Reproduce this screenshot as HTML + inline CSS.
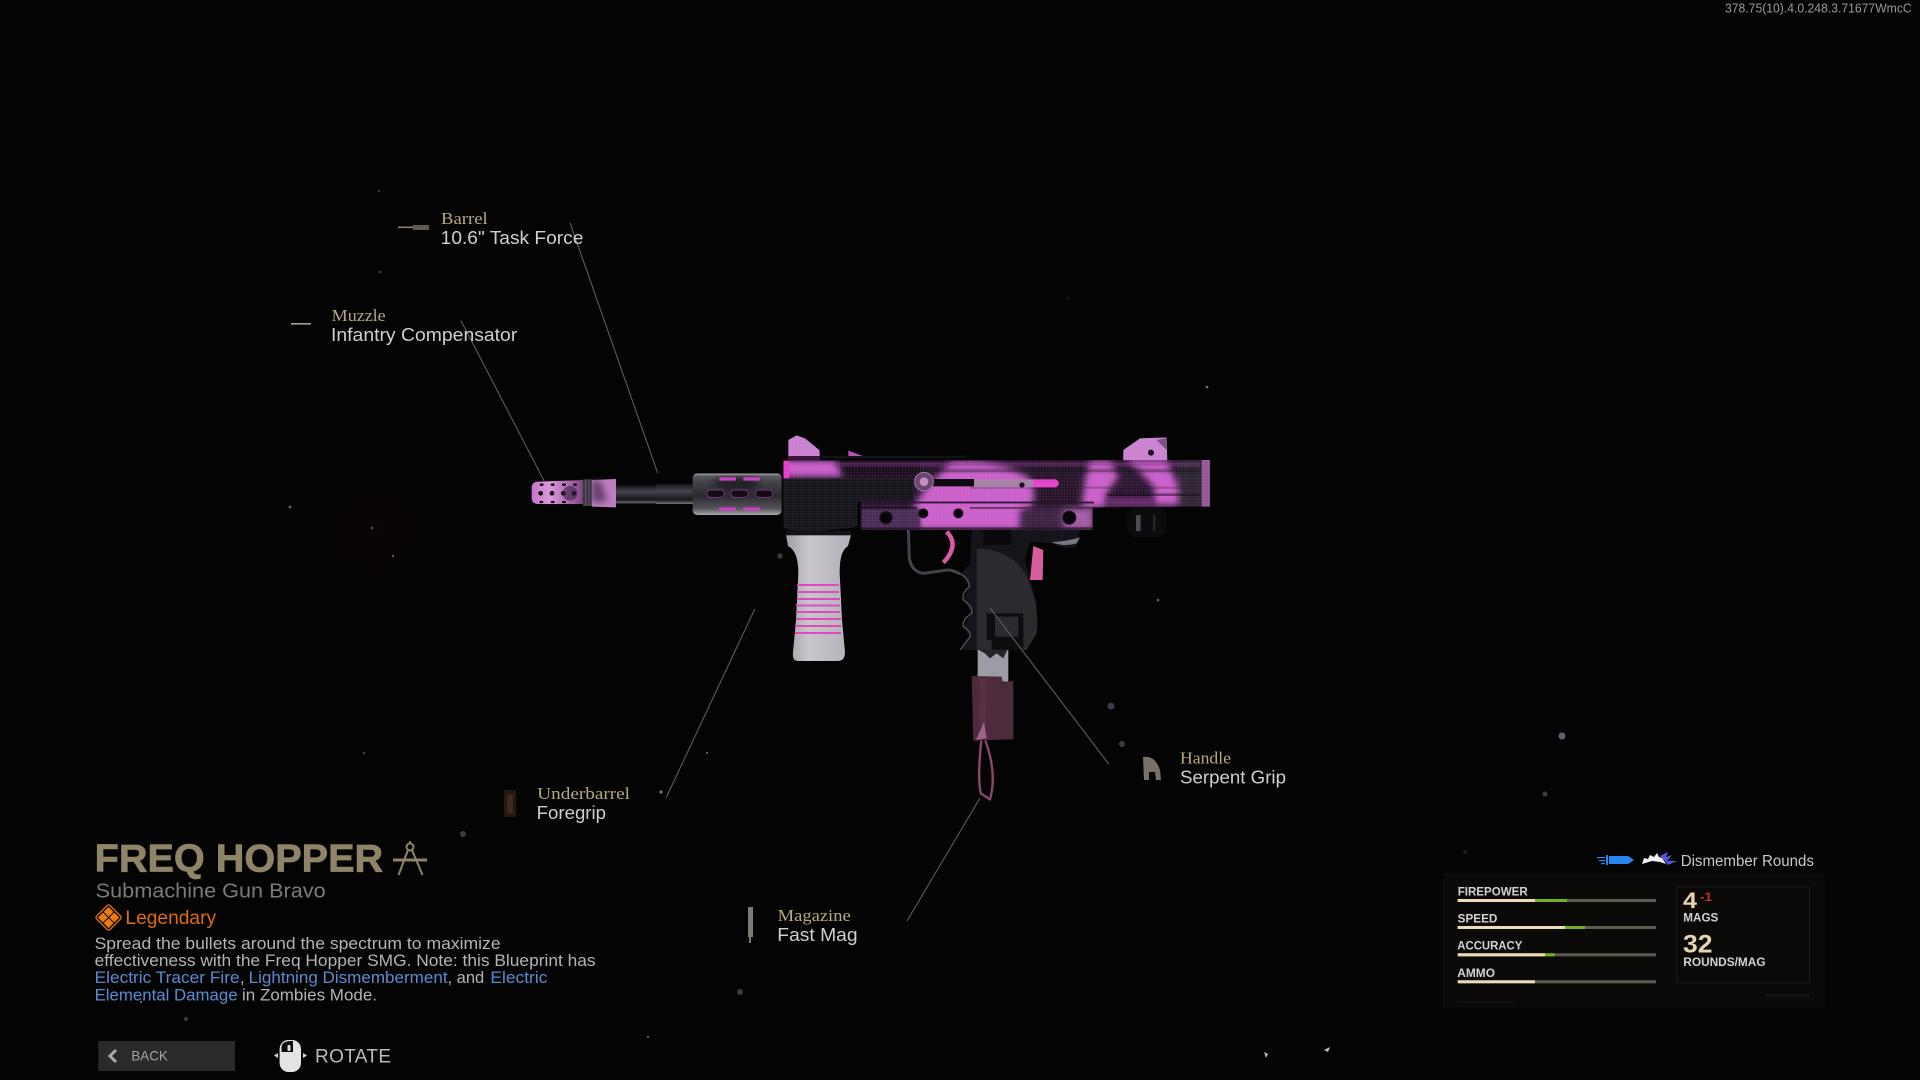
<!DOCTYPE html>
<html><head><meta charset="utf-8"><title>Freq Hopper</title>
<style>html,body{margin:0;padding:0;background:#040404;width:1920px;height:1080px;overflow:hidden}svg{display:block}
.s{font-family:"Liberation Sans",sans-serif}.r{font-family:"Liberation Serif",serif}
.k{font-family:"Liberation Serif",serif;font-size:16.5px;fill:#b8a97c}
.v{font-family:"Liberation Sans",sans-serif;font-size:18px;fill:#cfcfcf}
.d{font-family:"Liberation Sans",sans-serif;font-size:16.5px;fill:#b4b4b4}
.b{fill:#5b8bd0}
.t{font-family:"Liberation Sans",sans-serif;font-size:11.5px;font-weight:bold;fill:#d2d2d2}
</style></head><body>
<svg width="1920" height="1080" viewBox="0 0 1920 1080" xmlns="http://www.w3.org/2000/svg">
<defs>
<radialGradient id="glow"><stop offset="0" stop-color="#090405"/><stop offset="1" stop-color="#040404"/></radialGradient>
<filter id="bl" x="-30%" y="-30%" width="160%" height="160%"><feGaussianBlur stdDeviation="10"/></filter>
<filter id="bl2" x="-30%" y="-200%" width="160%" height="500%"><feGaussianBlur stdDeviation="3"/></filter>
<clipPath id="rc"><polygon points="40,92 1320,90 1320,230 968,232 968,300 272,300 272,215 40,215"/></clipPath>
<clipPath id="hgc"><rect x="518" y="40" width="267" height="125" rx="14"/></clipPath>
<linearGradient id="hg" x1="0" y1="0" x2="0" y2="1"><stop offset="0" stop-color="#66666c"/><stop offset=".2" stop-color="#44444a"/><stop offset=".55" stop-color="#2a2a2f"/><stop offset=".85" stop-color="#55555b"/><stop offset="1" stop-color="#a8a8ae"/></linearGradient>
<linearGradient id="bar" x1="0" y1="0" x2="0" y2="1"><stop offset="0" stop-color="#141418"/><stop offset=".35" stop-color="#44454b"/><stop offset=".8" stop-color="#17171b"/><stop offset="1" stop-color="#77777d"/></linearGradient>
<linearGradient id="fg" x1="0" y1="0" x2="1" y2="0"><stop offset="0" stop-color="#9f9da4"/><stop offset=".35" stop-color="#c9c7cd"/><stop offset="1" stop-color="#b3b1b7"/></linearGradient>
<linearGradient id="mz" x1="0" y1="0" x2="1" y2="0"><stop offset="0" stop-color="#c574c8"/><stop offset=".35" stop-color="#dc98dc"/><stop offset=".75" stop-color="#a866aa"/><stop offset="1" stop-color="#7a4580"/></linearGradient>
<pattern id="kn" width="8" height="8" patternUnits="userSpaceOnUse"><rect width="8" height="8" fill="#15151a"/><circle cx="4" cy="4" r="1.7" fill="#34343c"/></pattern>
<pattern id="gr" width="9" height="9" patternUnits="userSpaceOnUse"><rect width="9" height="9" fill="none"/><path d="M0,0H9M0,0V9" stroke="#f4b4f0" stroke-width="1.4" opacity=".35"/></pattern>
</defs>
<rect width="1920" height="1080" fill="#040404"/>
<ellipse cx="375" cy="530" rx="125" ry="140" fill="url(#glow)"/>

<!-- dust -->
<g fill="#3a3c48">
<circle cx="379" cy="191" r="1.2"/><circle cx="380" cy="272" r="1.4"/><circle cx="290" cy="507" r="1.4" fill="#666"/><circle cx="372" cy="528" r="1.1" fill="#666"/><circle cx="393" cy="556" r="1.1" fill="#666"/>
<circle cx="1207" cy="387" r="1.3" fill="#777"/><circle cx="1068" cy="298" r="1.5" fill="#1c1c1c"/><circle cx="780" cy="556" r="2.6"/><circle cx="1158" cy="600" r="1.3" fill="#666"/>
<circle cx="1111" cy="706" r="3.5"/><circle cx="1122" cy="744" r="3"/><circle cx="1562" cy="736" r="3.5" fill="#5a6070"/><circle cx="1545" cy="794" r="2.5"/>
<path d="M1264,1052 L1266,1058 L1268,1054Z M1324,1050 L1330,1047 L1328,1052Z" fill="#bbc"/><circle cx="740" cy="992" r="3"/><circle cx="707" cy="753" r="1.1" fill="#666"/>
<circle cx="661" cy="792" r="1.6" fill="#778"/><circle cx="463" cy="834" r="3"/><circle cx="364" cy="753" r="1.3"/><circle cx="648" cy="1037" r="1.1" fill="#666"/>
<circle cx="186" cy="1019" r="2"/><circle cx="141" cy="1002" r="1" fill="#888"/><circle cx="1465" cy="852" r="2" fill="#1c1c1c"/>
</g>

<!-- foregrip (real coords) -->
<path d="M786,535 H851 L848,546 Q838,552 840,580 L842,620 L845,652 Q845,661 838,661 H798 Q792,661 793,652 L796,620 L798,580 Q800,552 788,546Z" fill="url(#fg)"/>
<g fill="#e348be"><rect x="797" y="584" width="42" height="2"/><rect x="797" y="591" width="42" height="2"/><rect x="797" y="598" width="43" height="2"/><rect x="796" y="604.5" width="44" height="2"/><rect x="796" y="611" width="44" height="2"/><rect x="796" y="618" width="45" height="2"/><rect x="795" y="625" width="46" height="2"/><rect x="795" y="632" width="46" height="2"/></g>

<!-- muzzle / barrel / handguard -->
<g transform="translate(520 460) scale(.3333)">
 <path d="M35,80 Q38,65 55,65 L190,60 V132 L55,132 Q38,132 35,118Z" fill="url(#mz)"/>
 <g fill="#0f0810"><ellipse cx="65" cy="74" rx="6" ry="4"/><ellipse cx="98" cy="74" rx="6" ry="4"/><ellipse cx="132" cy="74" rx="6" ry="4"/><ellipse cx="165" cy="74" rx="6" ry="4"/>
 <circle cx="62" cy="100" r="7"/><circle cx="96" cy="100" r="7"/><circle cx="130" cy="100" r="7"/><circle cx="162" cy="100" r="7"/>
 <ellipse cx="64" cy="126" rx="6" ry="3.5"/><ellipse cx="98" cy="126" rx="6" ry="3.5"/><ellipse cx="132" cy="126" rx="6" ry="3.5"/></g>
 <ellipse cx="150" cy="100" rx="22" ry="22" fill="#3a2240" opacity=".6"/>
 <rect x="188" y="58" width="30" height="80" fill="#3c3440"/><rect x="196" y="58" width="3" height="80" fill="#70667a"/><rect x="206" y="58" width="3" height="80" fill="#6a6074"/>
 <path d="M215,60 L288,57 V142 L215,140Z" fill="#bf7ec2"/>
 <path d="M215,60 L240,60 L262,125 L215,125Z" fill="#3c2844" opacity=".7" filter="url(#bl)"/>
 <rect x="288" y="76" width="120" height="54" fill="url(#bar)"/>
 <rect x="408" y="72" width="112" height="60" fill="url(#bar)"/>
 <rect x="518" y="40" width="267" height="125" rx="14" fill="url(#hg)"/>
 <g clip-path="url(#hgc)"><ellipse cx="650" cy="70" rx="70" ry="18" fill="#14141a" opacity=".8" filter="url(#bl)"/><rect x="518" y="40" width="267" height="6" fill="#8a8a90"/></g>
 <g fill="#130c15" stroke="#9c3ea0" stroke-width="2"><rect x="561" y="90" width="52" height="22" rx="11"/><rect x="633" y="90" width="52" height="22" rx="11"/><rect x="706" y="90" width="52" height="22" rx="11"/></g>
 <g fill="#d040c4"><rect x="598" y="52" width="50" height="10" rx="2"/><rect x="670" y="52" width="50" height="10" rx="2"/><rect x="598" y="142" width="50" height="10" rx="2"/><rect x="670" y="142" width="50" height="10" rx="2"/></g>
</g>

<!-- receiver -->
<g transform="translate(770 430) scale(.3333)">
 <path d="M55,85 V30 L80,16 L105,25 L148,60 L150,85Z" fill="#c97fd0"/>
 <path d="M55,85 V30 L80,16 L105,25 L148,60 L150,85Z" fill="url(#gr)"/>
 <rect x="155" y="77" width="436" height="8" fill="#141216"/>
 <polygon points="235,62 278,78 235,78" fill="#b855b6"/>
 <rect x="55" y="78" width="95" height="14" fill="#37183a"/>
 <path d="M1060,92 V60 L1110,25 L1190,22 L1192,92Z" fill="#c982cf"/>
 <path d="M1060,92 V60 L1110,25 L1190,22 L1192,92Z" fill="url(#gr)"/>
 <circle cx="1143" cy="68" r="9" fill="#130a14"/>
 <path d="M1160,30 L1190,24 L1190,60 Z" fill="#7c5080"/>
 <!-- body -->
 <g clip-path="url(#rc)">
  <rect x="30" y="85" width="1300" height="225" fill="#2a1530"/>
  <rect x="210" y="92" width="240" height="52" fill="#1c0f20"/>
  <rect x="780" y="92" width="170" height="140" fill="#251428"/>
  <rect x="1220" y="92" width="75" height="135" fill="#2c2530"/>
  <g fill="#c95fca">
   <path d="M40,92 H195 L218,140 H40Z" filter="url(#bl)"/>
   <path d="M545,95 Q680,85 770,140 Q800,170 790,215 L750,300 H450 L430,235 L460,185 L510,130Z" filter="url(#bl)"/>
   <path d="M960,92 H1020 L1045,140 L1010,190 L1005,232 H935 L945,150Z" filter="url(#bl)"/>
   <path d="M1070,90 H1190 L1225,170 V225 H1150 L1155,175 L1110,125 Z" filter="url(#bl)"/>
   <rect x="1010" y="205" width="140" height="22" fill="#7c3080" filter="url(#bl)"/>
  </g>
  <rect x="275" y="235" width="175" height="60" fill="#4c2c56" filter="url(#bl2)"/>
  <rect x="750" y="235" width="130" height="60" fill="#3c2444" filter="url(#bl)"/>
  <rect x="880" y="235" width="90" height="65" fill="#a45ca6" filter="url(#bl)"/>
  <rect x="1295" y="90" width="25" height="140" fill="#94559a"/>
  <rect x="40" y="92" width="18" height="55" fill="#e83cc8"/>
  <rect x="200" y="98" width="1090" height="10" fill="#8a3d90" opacity=".45" filter="url(#bl2)"/>
  <rect x="220" y="118" width="1070" height="8" fill="#0d0810" opacity=".55" filter="url(#bl2)"/>
  <rect x="600" y="170" width="690" height="6" fill="#1a0f20" opacity=".3"/>
  <rect x="1010" y="190" width="280" height="8" fill="#150a18" opacity=".5"/>
  <rect x="272" y="215" width="700" height="5" fill="#1a0d20"/>
  <rect x="272" y="232" width="170" height="4" fill="#0f0812"/>
  <rect x="600" y="232" width="368" height="4" fill="#3b1c40"/>
  <rect x="272" y="292" width="700" height="8" fill="#1e1022" opacity=".7"/>
  <polygon points="40,92 1320,90 1320,230 968,232 968,300 272,300 272,215 40,215" fill="url(#gr)" opacity=".7"/>
 </g>
 <!-- slot -->
 <rect x="490" y="147" width="122" height="22" fill="#0e0b10"/>
 <rect x="612" y="148" width="180" height="24" fill="#a783a8"/>
 <path d="M790,148 H858 Q875,160 858,172 H790Z" fill="#e644cc"/>
 <circle cx="756" cy="165" r="8" fill="#18101a"/>
 <circle cx="462" cy="155" r="28" fill="#6c4470" stroke="#a07aa4" stroke-width="3"/><circle cx="462" cy="155" r="13" fill="#bf90be"/>
 <!-- holes -->
 <g fill="#09060a" stroke="#14101a" stroke-width="4"><circle cx="348" cy="263" r="18"/><circle cx="460" cy="250" r="13"/><circle cx="565" cy="250" r="13"/><circle cx="898" cy="263" r="19"/></g>
 <!-- knurled -->
 <path d="M40,145 H430 V210 H262 V290 Q170,308 60,300 Q40,296 40,285Z" fill="url(#kn)"/>
 <!-- knob -->
 <path d="M1090,232 H1170 L1190,250 V305 L1170,322 H1090 L1070,300 V255Z" fill="#0c0c0e"/>
 <rect x="1098" y="255" width="14" height="48" fill="#4c4c52"/><rect x="1150" y="255" width="6" height="48" fill="#2a2a30"/>
 <!-- foregrip clamp -->
 <rect x="48" y="302" width="195" height="14" fill="#131317"/>
</g>

<!-- lower -->
<g transform="translate(880 530) scale(.3333)">
 <path d="M85,0 L88,85 Q95,125 130,130 L190,122 Q210,115 240,132" fill="none" stroke="#45424c" stroke-width="9"/>
 <path d="M200,5 Q240,45 190,98" fill="none" stroke="#d85aa2" stroke-width="13"/>
 <path d="M275,0 H600 L590,50 Q550,60 515,40 L450,35 L435,90 L470,220 L470,310 L440,360 H240 L270,320 L250,290 L275,250 L250,210 L268,170 L240,132 L270,102Z" fill="#15141a"/>
 <path d="M240,132 Q265,140 268,170 Q245,190 250,210 Q280,230 275,250 Q245,270 250,290 Q275,305 270,320 L240,360" fill="none" stroke="#56525e" stroke-width="4"/>
 <path d="M290,55 Q400,60 440,140 Q480,230 470,310 L440,360 H290Z" fill="#2b2a2e"/>
 <rect x="310" y="0" width="85" height="45" fill="#0a0a0c"/>
 <path d="M515,36 Q550,52 590,40 L600,22 Q560,34 515,36Z" fill="#787680"/>
 <rect x="320" y="250" width="110" height="80" fill="#0d0d10"/>
 <rect x="345" y="260" width="70" height="60" fill="#2a2a30"/>
 <rect x="335" y="330" width="95" height="30" fill="#0e0e11"/>
 <path d="M460,48 L490,60 L488,150 L450,150Z" fill="#d65d9e"/>
 <rect x="293" y="360" width="92" height="95" fill="#9d9ca6"/>
 <polygon points="296,360 382,360 370,385 350,370 330,385 315,370" fill="#252529"/>
 <path d="M275,438 L365,440 L368,458 L400,452 L400,628 L280,632Z" fill="#4e2a3d"/>
 <path d="M300,445 L320,445 L318,590 L295,590Z" fill="#5a2f45"/>
 <path d="M312,575 L320,625 L288,630Z" fill="#a0618a"/>
 <path d="M304,632 Q292,740 302,790 L330,808 Q352,730 316,632" fill="none" stroke="#8a4a6c" stroke-width="7"/>
</g>

<!-- connector lines -->
<g stroke="#5c5c5a" stroke-width="1.1" fill="none">
<line x1="570" y1="222.7" x2="657.7" y2="473"/>
<line x1="461" y1="320.7" x2="544" y2="480.7"/>
<line x1="754.8" y1="609" x2="666" y2="798"/>
<line x1="990" y1="608" x2="1108.7" y2="764"/>
<line x1="980" y1="798" x2="907" y2="921"/>
</g>

<!-- part icons -->
<rect x="398" y="226.5" width="16" height="1.6" fill="#8a8272"/><rect x="413" y="225" width="16" height="5" fill="#5f584c"/>
<rect x="291" y="323" width="20" height="1.6" fill="#a8a08e"/>
<rect x="504" y="790" width="12" height="27" fill="#241810"/><rect x="507" y="795" width="6" height="18" fill="#40291c"/>
<rect x="748" y="907" width="5" height="30" fill="#7f7b72"/><rect x="749" y="937" width="2" height="6" fill="#777"/>
<path d="M1144,780 L1143,757 Q1155,755 1160,770 L1161,780 L1156,780 L1155,772 L1149,772 L1149,780Z" fill="#7a7166"/>

<!-- part labels -->
<text class="k" x="441" y="224" textLength="46.7" lengthAdjust="spacingAndGlyphs">Barrel</text>
<text class="v" x="440.7" y="244" textLength="142.7" lengthAdjust="spacingAndGlyphs">10.6" Task Force</text>
<text class="k" x="331.7" y="321" textLength="54" lengthAdjust="spacingAndGlyphs">Muzzle</text>
<text class="v" x="331" y="341" textLength="186.3" lengthAdjust="spacingAndGlyphs">Infantry Compensator</text>
<text class="k" x="537.3" y="799" textLength="92.7" lengthAdjust="spacingAndGlyphs">Underbarrel</text>
<text class="v" x="536.7" y="819" textLength="69.3" lengthAdjust="spacingAndGlyphs">Foregrip</text>
<text class="k" x="777.7" y="921" textLength="73" lengthAdjust="spacingAndGlyphs">Magazine</text>
<text class="v" x="777.3" y="941" textLength="80.3" lengthAdjust="spacingAndGlyphs">Fast Mag</text>
<text class="k" x="1180" y="763.7" textLength="51" lengthAdjust="spacingAndGlyphs">Handle</text>
<text class="v" x="1180" y="783.7" textLength="106" lengthAdjust="spacingAndGlyphs">Serpent Grip</text>

<text class="s" x="1725" y="12.7" font-size="12.5" fill="#9a9a9a" textLength="186.7" lengthAdjust="spacingAndGlyphs">378.75(10).4.0.248.3.71677WmcC</text>

<!-- title block -->
<text class="s" x="94.6" y="871.7" font-size="38.5" font-weight="bold" fill="#8f8468" stroke="#8f8468" stroke-width=".7" textLength="288.6" lengthAdjust="spacingAndGlyphs">FREQ HOPPER</text>
<g stroke="#8f8468" stroke-width="2" fill="none"><line x1="393" y1="860" x2="427" y2="860" stroke-width="3"/><circle cx="410" cy="847" r="3.5"/><line x1="408" y1="850" x2="398.6" y2="875"/><line x1="412" y1="850" x2="422.5" y2="875"/><line x1="410" y1="841" x2="410" y2="844"/></g>
<text class="s" x="95.7" y="897.7" font-size="20.5" fill="#7b7b7b" textLength="230" lengthAdjust="spacingAndGlyphs">Submachine Gun Bravo</text>
<g transform="translate(108.6 917.5) rotate(45)"><rect x="-9.5" y="-9.5" width="19" height="19" rx="2" fill="none" stroke="#d9690e" stroke-width="1.4"/><g fill="#ee7a14"><rect x="-7.5" y="-7.5" width="7" height="7"/><rect x=".5" y="-7.5" width="7" height="7"/><rect x="-7.5" y=".5" width="7" height="7"/><rect x=".5" y=".5" width="7" height="7"/></g></g>
<text class="s" x="125.4" y="924" font-size="19.5" fill="#e06c10" textLength="90.7" lengthAdjust="spacingAndGlyphs">Legendary</text>

<text class="d" x="94.6" y="949" textLength="406" lengthAdjust="spacingAndGlyphs">Spread the bullets around the spectrum to maximize</text>
<text class="d" x="94.6" y="966" textLength="501" lengthAdjust="spacingAndGlyphs">effectiveness with the Freq Hopper SMG. Note: this Blueprint has</text>
<text class="d b" x="94.6" y="983" textLength="145" lengthAdjust="spacingAndGlyphs">Electric Tracer Fire</text>
<text class="d" x="240" y="983">,</text>
<text class="d b" x="248.6" y="983" textLength="199" lengthAdjust="spacingAndGlyphs">Lightning Dismemberment</text>
<text class="d" x="447.5" y="983">, and</text>
<text class="d b" x="490.4" y="983" textLength="57" lengthAdjust="spacingAndGlyphs">Electric</text>
<text class="d b" x="94.6" y="1000.5" textLength="143" lengthAdjust="spacingAndGlyphs">Elemental Damage</text>
<text class="d" x="242" y="1000.5" textLength="135" lengthAdjust="spacingAndGlyphs">in Zombies Mode.</text>

<!-- back / rotate -->
<rect x="98.2" y="1041" width="136.8" height="30" fill="#2b2a29"/>
<path d="M116,1050 L110,1056 L116,1062" fill="none" stroke="#a8a8a8" stroke-width="3"/>
<text class="s" x="131.4" y="1060.5" font-size="14" fill="#a5a5a5" textLength="36.4" lengthAdjust="spacingAndGlyphs">BACK</text>
<rect x="279.6" y="1040" width="21.4" height="32" rx="9" fill="#e4e4e4"/>
<path d="M281.5,1052 V1047 Q282,1041.5 290,1041 H293 V1052Z" fill="#0b0b0b"/>
<rect x="287.5" y="1045" width="3" height="6" rx="1" fill="#ddd"/>
<path d="M278,1053 L274,1055.5 L278,1058Z M303,1053 L307,1055.5 L303,1058Z" fill="#d8d8d8"/>
<text class="s" x="315" y="1062.7" font-size="19" fill="#bcbcbc" textLength="76" lengthAdjust="spacing">ROTATE</text>

<!-- stats -->
<rect x="1443" y="873" width="382" height="135" fill="#0b0a09"/>
<g fill="#2688ea"><path d="M1609,856 H1628 L1634,860 L1628,864 H1609Z"/><rect x="1606" y="855" width="2" height="10"/><rect x="1597" y="857" width="8" height="1.2"/><rect x="1599" y="860" width="6" height="1.2"/><rect x="1601" y="863" width="4" height="1.2"/></g>
<path d="M1642,864 L1644,858 L1648,859 L1650,855 L1654,857 L1657,853 L1659,857 L1662,858 L1666,864 L1660,862 L1652,861Z" fill="#efefef"/>
<path d="M1660,856 L1668,852 L1666,857 L1672,855 L1667,861 L1677,861 L1668,865 L1664,860Z" fill="#5557dd"/>
<text class="s" x="1680.7" y="866" font-size="15.5" fill="#c8c8c8" textLength="133.3" lengthAdjust="spacingAndGlyphs">Dismember Rounds</text>

<text class="t" x="1457.7" y="895.7" textLength="70" lengthAdjust="spacingAndGlyphs">FIREPOWER</text>
<rect x="1457.7" y="899" width="198.3" height="3" fill="#5e5a50"/><rect x="1457.7" y="899" width="109.3" height="3" fill="#72b122"/><rect x="1457.7" y="899" width="77.3" height="3" fill="#ecdcb8"/>
<text class="t" x="1457.7" y="922.7" textLength="39.7" lengthAdjust="spacingAndGlyphs">SPEED</text>
<rect x="1457.7" y="926" width="198.3" height="3" fill="#5e5a50"/><rect x="1457.7" y="926" width="127.3" height="3" fill="#72b122"/><rect x="1457.7" y="926" width="107.3" height="3" fill="#ecdcb8"/>
<text class="t" x="1457.3" y="949.7" textLength="65" lengthAdjust="spacingAndGlyphs">ACCURACY</text>
<rect x="1457.7" y="953.3" width="198.3" height="3" fill="#5e5a50"/><rect x="1457.7" y="953.3" width="97.3" height="3" fill="#72b122"/><rect x="1457.7" y="953.3" width="87.3" height="3" fill="#ecdcb8"/>
<text class="t" x="1457.3" y="977" textLength="37.7" lengthAdjust="spacingAndGlyphs">AMMO</text>
<rect x="1457.7" y="980.3" width="198.3" height="3" fill="#5e5a50"/><rect x="1457.7" y="980.3" width="77.3" height="3" fill="#ecdcb8"/>

<rect x="1676.7" y="887" width="132.6" height="96" fill="none" stroke="#1c1b1a" stroke-width="1"/>
<text class="s" x="1683" y="908" font-size="22" font-weight="bold" fill="#e6d5ae" textLength="14" lengthAdjust="spacingAndGlyphs">4</text>
<text class="s" x="1700" y="901" font-size="11.5" font-weight="bold" fill="#c9302a" textLength="12" lengthAdjust="spacingAndGlyphs">-1</text>
<text class="t" x="1683.3" y="921.7" textLength="35" lengthAdjust="spacingAndGlyphs">MAGS</text>
<text class="s" x="1683" y="952.7" font-size="25" font-weight="bold" fill="#e6d5ae" textLength="29.5" lengthAdjust="spacingAndGlyphs">32</text>
<text class="t" x="1683.3" y="966" textLength="82.3" lengthAdjust="spacingAndGlyphs">ROUNDS/MAG</text>
<rect x="1458" y="1001" width="55" height="1.5" fill="#161513"/>
<rect x="1766" y="994" width="43" height="3" fill="#161513"/>
</svg>
</body></html>
